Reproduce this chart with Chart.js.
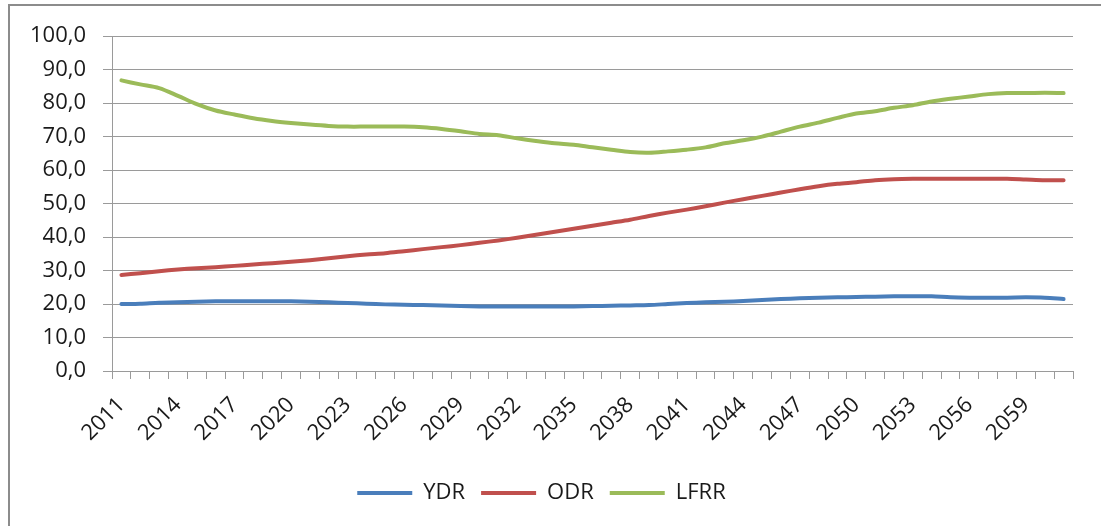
<!DOCTYPE html>
<html>
<head>
<meta charset="utf-8">
<script src="https://cdn.jsdelivr.net/npm/chart.js@4/dist/chart.umd.min.js"></script>
<style>
  html, body { margin: 0; padding: 0; background: #fff; overflow: hidden; }
  body { width: 1101px; height: 526px; position: relative; }
  .title {
    position: absolute; left: -2px; top: -26px; white-space: nowrap;
    font: bold 19px "Open Sans", sans-serif; color: #4f81bd;
  }
  .frame {
    position: absolute; left: 8px; top: 4px; width: 1100px; height: 530px;
    border-top: 2px solid #8c8c8c; border-left: 2px solid #8c8c8c; background: #fff;
  }
  .wrap { position: absolute; left: 10px; top: 6px; width: 1091px; height: 520px; }
</style>
</head>
<body>
<div class="title">Figure 4: Dependency ratios of the population by age group, 2011-2061 (percentage)</div>
<div class="frame"></div>
<div class="wrap"><canvas id="ratioChart"></canvas></div>
<script>
(function () {
    'use strict';

    // ── Data ────────────────────────────────────────────────────
    const YEARS = [];
    for (let y = 2011; y <= 2061; y++) YEARS.push(String(y));

    const YDR = [20.0, 20.1, 20.4, 20.5, 20.7, 20.8, 20.8, 20.8, 20.8, 20.8,
                 20.7, 20.5, 20.3, 20.1, 19.9, 19.8, 19.7, 19.6, 19.4, 19.3,
                 19.3, 19.3, 19.3, 19.3, 19.3, 19.4, 19.5, 19.6, 19.7, 20.0,
                 20.3, 20.5, 20.7, 20.9, 21.2, 21.5, 21.7, 21.9, 22.0, 22.1,
                 22.2, 22.3, 22.3, 22.3, 22.0, 21.9, 21.9, 21.9, 22.0, 21.9, 21.5];
    const ODR = [28.7, 29.2, 29.8, 30.3, 30.7, 31.0, 31.4, 31.8, 32.2, 32.6,
                 33.1, 33.7, 34.3, 34.8, 35.2, 35.8, 36.4, 37.0, 37.6, 38.3,
                 39.0, 39.8, 40.7, 41.6, 42.5, 43.4, 44.3, 45.2, 46.3, 47.3,
                 48.2, 49.2, 50.3, 51.3, 52.3, 53.3, 54.3, 55.2, 55.9, 56.4,
                 57.0, 57.3, 57.4, 57.4, 57.4, 57.4, 57.4, 57.4, 57.2, 57.0, 57.0];
    const LFRR = [86.8, 85.6, 84.5, 82.2, 79.7, 77.8, 76.6, 75.5, 74.7, 74.1,
                  73.6, 73.2, 73.0, 73.0, 73.0, 73.0, 72.8, 72.3, 71.6, 70.8,
                  70.4, 69.5, 68.7, 68.0, 67.6, 66.8, 66.1, 65.4, 65.2, 65.6,
                  66.1, 66.8, 68.0, 68.9, 70.0, 71.5, 73.0, 74.2, 75.6, 76.9,
                  77.6, 78.6, 79.4, 80.5, 81.3, 82.0, 82.7, 83.0, 83.0, 83.1, 83.0];

    const SERIES_LABELS = ['YDR', 'ODR', 'LFRR'];
    const SERIES_COLORS = ['#4a7ebb', '#c0504d', '#9bbb59'];

    const TEXT_COLOR = '#1a1a1a';
    const GRID_COLOR = '#9a9a9a';
    const FONT = { family: '"Open Sans", sans-serif', size: 22 };

    function ds(label, data, color) {
        return {
            label: label, data: data,
            borderColor: color, backgroundColor: color,
            borderWidth: 4, pointRadius: 0, tension: 0.3,
            pointStyle: 'line', borderCapStyle: 'round'
        };
    }

    new Chart(document.getElementById('ratioChart'), {
        type: 'line',
        data: {
            labels: YEARS,
            datasets: [
                ds(SERIES_LABELS[0], YDR, SERIES_COLORS[0]),
                ds(SERIES_LABELS[1], ODR, SERIES_COLORS[1]),
                ds(SERIES_LABELS[2], LFRR, SERIES_COLORS[2])
            ]
        },
        options: {
            responsive: true,
            maintainAspectRatio: false,
            animation: false,
            layout: { padding: { left: 0, right: 28, top: 14, bottom: 12 } },
            plugins: {
                tooltip: { enabled: false },
                legend: {
                    position: 'bottom',
                    labels: {
                        color: TEXT_COLOR, font: FONT,
                        usePointStyle: true, pointStyle: 'line',
                        boxWidth: 55, pointStyleWidth: 55, padding: 16
                    }
                }
            },
            scales: {
                x: {
                    offset: true,
                    grid: { offset: true, drawOnChartArea: false, drawTicks: true, tickLength: 8, color: GRID_COLOR },
                    border: { color: GRID_COLOR },
                    ticks: {
                        color: TEXT_COLOR, font: FONT, autoSkip: false,
                        minRotation: 45, maxRotation: 45, padding: 13,
                        callback: function (v, i) { return i % 3 === 0 ? YEARS[i] : ''; }
                    },
                    afterFit: function (s) { s.height = 95; }
                },
                y: {
                    min: 0, max: 100,
                    grid: { color: GRID_COLOR, tickLength: 9 },
                    border: { color: GRID_COLOR },
                    ticks: {
                        stepSize: 10, color: TEXT_COLOR, font: FONT, padding: 17,
                        callback: function (v) { return v.toFixed(1).replace('.', ','); }
                    },
                    afterFit: function (s) { s.width = 102; }
                }
            }
        }
    });
})();
</script>
</body>
</html>
